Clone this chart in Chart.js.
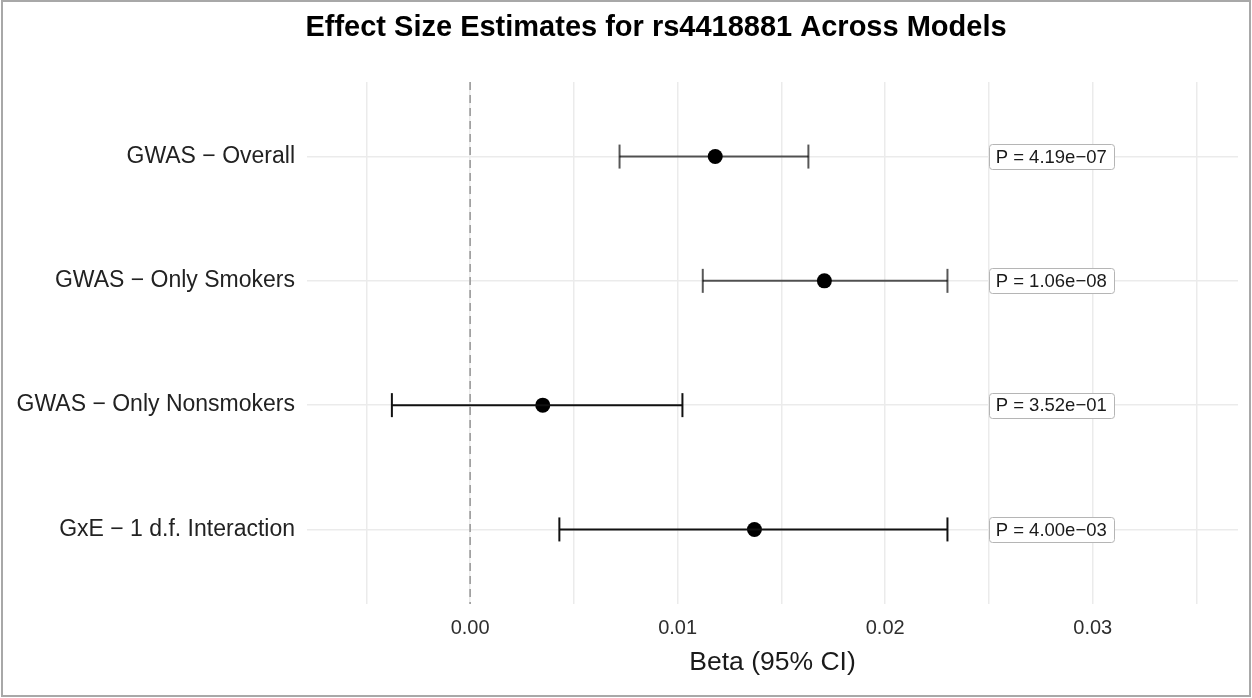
<!DOCTYPE html>
<html>
<head>
<meta charset="utf-8">
<title>Effect Size Estimates for rs4418881</title>
<script src="https://cdn.jsdelivr.net/npm/chart.js@4.4.1/dist/chart.umd.min.js"></script>
<style>
  html, body { margin: 0; padding: 0; background: #fff; }
  canvas { display: block; }
</style>
</head>
<body>
<canvas id="forestChart" width="1252" height="698"></canvas>
<script>
// model labels, top to bottom
var models = ['GWAS \u2212 Overall', 'GWAS \u2212 Only Smokers', 'GWAS \u2212 Only Nonsmokers', 'GxE \u2212 1 d.f. Interaction'];
// beta estimates and 95% CI bounds
var beta = [0.01181, 0.01707, 0.00350, 0.01370];
var ciLow = [0.00720, 0.01121, -0.00377, 0.00430];
var ciHigh = [0.01630, 0.02300, 0.01023, 0.02300];
// p-values shown in the boxes at the right
var pValues = [4.19e-07, 1.06e-08, 3.52e-01, 4.00e-03];
var pLabelX = 0.028;
// x axis
var xMin = -0.00786, xMax = 0.0370;
var majorTicks = [0, 0.01, 0.02, 0.03];
var gridTicks = [-0.005, 0, 0.005, 0.01, 0.015, 0.02, 0.025, 0.03, 0.035];

// whiskers for the two top rows are a bit lighter
var whiskerColors = ['rgba(0,0,0,0.66)', 'rgba(0,0,0,0.66)', '#111', '#111'];

function formatP(p) {
    // 4.19e-7 -> 4.19e−07
    var s = p.toExponential(2).split('e');
    var exp = parseInt(s[1], 10);
    var sign = exp < 0 ? '\u2212' : '+';
    var digits = String(Math.abs(exp)).padStart(2, '0');
    return 'P = ' + s[0] + 'e' + sign + digits;
}

var datasets = [];

// dashed reference line at zero
datasets.push({
    data: [{x: 0, y: 0.4}, {x: 0, y: 4.6}],
    showLine: true,
    borderColor: '#9a9a9a',
    borderWidth: 1.6,
    borderDash: [8, 5],
    pointRadius: 0
});

// confidence interval whiskers with end caps
models.forEach(function(m, i) {
    datasets.push({
        data: [{x: ciLow[i], y: i + 1}, {x: ciHigh[i], y: i + 1}],
        showLine: true,
        borderColor: whiskerColors[i],
        borderWidth: 2,
        pointStyle: 'line',
        rotation: 90,
        pointRadius: 12,
        pointBorderWidth: 2,
        pointBorderColor: whiskerColors[i]
    });
});

// point estimates
datasets.push({
    data: beta.map(function(b, i) { return {x: b, y: i + 1}; }),
    pointRadius: 7.5,
    pointBackgroundColor: '#000',
    pointBorderColor: '#000',
    pointBorderWidth: 0
});

var framePlugin = {
    id: 'frame',
    beforeDraw: function(chart) {
        var ctx = chart.ctx;
        ctx.save();
        ctx.fillStyle = '#fff';
        ctx.fillRect(0, 0, chart.width, chart.height);
        ctx.restore();
    },
    afterDraw: function(chart) {
        var ctx = chart.ctx;
        ctx.save();
        // title
        ctx.fillStyle = '#000';
        ctx.font = 'bold 29px "Liberation Sans", Arial, sans-serif';
        ctx.textAlign = 'center';
        ctx.textBaseline = 'alphabetic';
        ctx.fillText('Effect Size Estimates for rs4418881 Across Models', 656, 36);
        // outer frame
        ctx.strokeStyle = '#a8a8a8';
        ctx.lineWidth = 2;
        ctx.strokeRect(2, 1, chart.width - 4, chart.height - 3);
        ctx.restore();
    }
};

// p-value boxes
var pLabelPlugin = {
    id: 'pLabels',
    afterDatasetsDraw: function(chart) {
        var ctx = chart.ctx;
        var xs = chart.scales.x, ys = chart.scales.y;
        ctx.save();
        ctx.font = '18.5px "Liberation Sans", Arial, sans-serif';
        ctx.textAlign = 'center';
        ctx.textBaseline = 'middle';
        pValues.forEach(function(p, i) {
            var txt = formatP(p);
            var cx = xs.getPixelForValue(pLabelX);
            var cy = ys.getPixelForValue(i + 1);
            var w = ctx.measureText(txt).width + 14;
            var h = 25;
            ctx.beginPath();
            ctx.roundRect(Math.round(cx - w / 2) + 0.5, Math.round(cy - h / 2) + 0.5, Math.round(w), h, 3);
            ctx.fillStyle = '#fff';
            ctx.fill();
            ctx.strokeStyle = '#b5b5b5';
            ctx.lineWidth = 1;
            ctx.stroke();
            ctx.fillStyle = '#1a1a1a';
            ctx.fillText(txt, cx, cy + 1);
        });
        ctx.restore();
    }
};

var ctx = document.getElementById('forestChart').getContext('2d');
var chart = new Chart(ctx, {
    type: 'scatter',
    data: { datasets: datasets },
    plugins: [framePlugin, pLabelPlugin],
    options: {
        responsive: false,
        animation: false,
        devicePixelRatio: 1,
        layout: { padding: { top: 82, right: 14, bottom: 0, left: 0 } },
        plugins: {
            legend: { display: false },
            tooltip: { enabled: false },
            title: { display: false }
        },
        scales: {
            x: {
                type: 'linear',
                min: xMin,
                max: xMax,
                afterBuildTicks: function(scale) {
                    scale.ticks = gridTicks.map(function(v) { return {value: v}; });
                },
                afterFit: function(scale) { scale.height = 94; },
                border: { display: false },
                grid: { color: '#ebebeb', lineWidth: 1.5, drawTicks: false },
                ticks: {
                    padding: 12,
                    color: '#2e2e2e',
                    font: { family: '"Liberation Sans", Arial, sans-serif', size: 20 },
                    callback: function(v) {
                        var major = majorTicks.some(function(t) { return Math.abs(t - v) < 1e-9; });
                        return major ? v.toFixed(2) : '';
                    }
                },
                title: {
                    display: true,
                    text: 'Beta (95% CI)',
                    color: '#1a1a1a',
                    font: { family: '"Liberation Sans", Arial, sans-serif', size: 26.5 },
                    padding: { top: 0, bottom: 19 }
                }
            },
            y: {
                type: 'linear',
                reverse: true,
                min: 0.4,
                max: 4.6,
                afterBuildTicks: function(scale) {
                    scale.ticks = models.map(function(m, i) { return {value: i + 1}; });
                },
                afterFit: function(scale) { scale.width = 307; },
                border: { display: false },
                grid: { color: '#ebebeb', lineWidth: 1.5, drawTicks: false },
                ticks: {
                    padding: 12,
                    color: '#222',
                    font: { family: '"Liberation Sans", Arial, sans-serif', size: 23 },
                    callback: function(v) { return models[v - 1]; }
                }
            }
        }
    }
});
</script>
</body>
</html>
